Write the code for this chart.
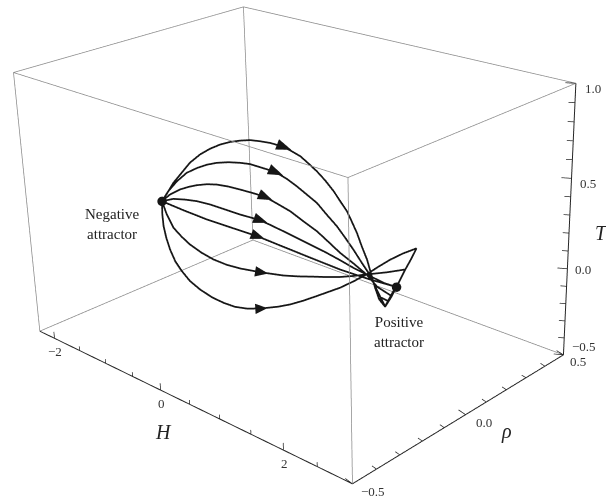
import numpy as np, plotly.graph_objects as go

# ---- data ----
H_BOX = [-2.3, 3.0]
RHO_BOX = [-0.5, 0.5]
T_BOX = [-0.5, 1.0]
PAD = 0.01   # axis ranges are opened by this fraction so box edges are not clipped
RHO_PLANE = 0.0

H1 = [-2.00,-1.89,-1.75,-1.57,-1.41,-1.21,-1.02,-0.83,-0.65,-0.47,-0.30,-0.13,0.04,0.26,0.39,0.53,0.66,0.79,0.92,1.05,1.15,1.25,1.32,1.40,1.47,1.55,1.62,1.67,1.73,1.82,1.89,1.98]
T1 = [0.056,0.116,0.197,0.280,0.354,0.424,0.477,0.521,0.554,0.580,0.600,0.611,0.619,0.620,0.610,0.597,0.571,0.543,0.507,0.463,0.420,0.378,0.332,0.277,0.214,0.150,0.067,0.009,-0.047,-0.076,-0.016,0.057]
H2 = [-2.00,-1.86,-1.68,-1.48,-1.28,-1.09,-0.91,-0.70,-0.49,-0.32,-0.15,0.11,0.30,0.46,0.62,0.78,0.93,1.09,1.22,1.34,1.47,1.57,1.67,1.74,1.82,1.89,1.98]
T2 = [0.056,0.134,0.214,0.287,0.337,0.377,0.407,0.433,0.452,0.463,0.464,0.465,0.447,0.424,0.396,0.368,0.322,0.276,0.227,0.179,0.121,0.079,0.018,-0.027,-0.073,-0.016,0.057]
H3 = [-2.00,-1.83,-1.63,-1.46,-1.30,-1.11,-0.93,-0.72,-0.51,-0.28,-0.08,0.12,0.34,0.55,0.77,0.95,1.13,1.34,1.54,1.64,1.70,1.92,1.98]
T3 = [0.056,0.117,0.170,0.205,0.233,0.260,0.278,0.290,0.296,0.301,0.303,0.288,0.270,0.239,0.209,0.172,0.134,0.101,0.066,0.037,0.019,-0.003,0.057]
H4 = [-2.00,-1.77,-1.54,-1.32,-1.07,-0.83,-0.53,-0.18,0.07,0.32,0.60,0.87,1.13,1.34,1.59,1.80,1.99]
T4 = [0.056,0.097,0.119,0.135,0.144,0.146,0.148,0.157,0.147,0.136,0.122,0.109,0.092,0.076,0.064,0.054,0.057]
H5 = [-2.00,-1.59,-1.15,-0.69,-0.24,0.18,0.59,1.13,1.59,1.99]
T5 = [0.056,0.049,0.045,0.050,0.056,0.050,0.045,0.039,0.045,0.057]
H6 = [-2.00,-1.92,-1.80,-1.65,-1.50,-1.28,-1.06,-0.82,-0.57,-0.20,0.19,0.44,0.69,0.91,1.13,1.34,1.54,1.85,2.12,1.99]
T6 = [0.056,-0.017,-0.086,-0.123,-0.151,-0.175,-0.188,-0.189,-0.179,-0.153,-0.120,-0.092,-0.060,-0.033,-0.003,0.031,0.066,0.119,0.170,0.057]
H7 = [-2.00,-2.01,-2.00,-1.96,-1.90,-1.81,-1.69,-1.54,-1.35,-1.13,-0.91,-0.70,-0.48,-0.23,0.08,0.29,0.52,0.74,0.93,1.12,1.34,1.54,1.72,1.90,2.09,2.28,2.20,2.12,2.02,1.92,1.82,1.73,1.77,1.87,1.99]
T7 = [0.056,-0.027,-0.099,-0.168,-0.233,-0.296,-0.343,-0.386,-0.414,-0.432,-0.437,-0.432,-0.412,-0.376,-0.321,-0.278,-0.223,-0.166,-0.116,-0.066,0.001,0.066,0.132,0.195,0.253,0.304,0.234,0.170,0.084,-0.003,-0.076,-0.044,-0.033,-0.038,0.057]
ARROW_AT = [13, 11, 10, 7, 4, 9, 13]

NEG_ATTRACTOR = (-2.00, 0.0, 0.056)
POS_ATTRACTOR = (1.99, 0.0, 0.057)

H_MAJOR = [-2, 0, 2]
H_MINOR = [-1.5, -1, -0.5, 0.5, 1, 1.5, 2.5]
RHO_MAJOR = [-0.5, 0.0, 0.5]
RHO_MINOR = [-0.4, -0.3, -0.2, -0.1, 0.1, 0.2, 0.3, 0.4]
T_MAJOR = [-0.5, 0.0, 0.5, 1.0]
T_MINOR = [-0.4, -0.3, -0.2, -0.1, 0.1, 0.2, 0.3, 0.4, 0.6, 0.7, 0.8, 0.9]
H_LABELS = ["\u22122", "0", "2"]
RHO_LABELS = ["\u22120.5", "0.0", "0.5"]
T_LABELS = ["\u22120.5", "0.0", "0.5", "1.0"]

# ---- view ----
EYE = (3.1236, -3.1487, 1.8448)
UP = (0.0197, 0.0197, 1.0)
ASPECT = (1.4039, 1.0, 0.9013)
CW, CH, OX, OY = 634, 1266, 26, 418   # canvas with the lens of the original, slid so the picture shows
GREY = "#8a8a8a"; DARK = "#262626"; INK = "#161616"; SERIF = "Liberation Serif"

H0, H9 = H_BOX; R0, R9 = RHO_BOX; T0, T9 = T_BOX
def opened(b):
    m = (b[1]-b[0])*PAD
    return [b[0]-m, b[1]+m]
fig = go.Figure()
def seg(xs, ys, zs, color, width):
    fig.add_trace(go.Scatter3d(x=xs, y=ys, z=zs, mode="lines", line=dict(color=color, width=width), hoverinfo="skip"))

# back edges of the box, grey
for a, b in [((H0,R9,T0),(H0,R0,T0)),((H0,R9,T0),(H9,R9,T0)),((H0,R0,T0),(H0,R0,T9)),((H9,R0,T0),(H9,R0,T9)),
             ((H0,R9,T0),(H0,R9,T9)),((H0,R0,T9),(H9,R0,T9)),((H9,R0,T9),(H9,R9,T9)),
             ((H9,R9,T9),(H0,R9,T9)),((H0,R9,T9),(H0,R0,T9))]:
    seg([a[0],b[0]],[a[1],b[1]],[a[2],b[2]],GREY,1.5)
# axis lines, dark
seg([H0,H9],[R0,R0],[T0,T0],DARK,2)
seg([H9,H9],[R0,R9],[T0,T0],DARK,2)
seg([H9,H9],[R9,R9],[T0,T9],DARK,2)
# tick marks
for vals, k in ((H_MAJOR,1.0),(H_MINOR,0.62)):
    for v in vals: seg([v,v],[R0,R0],[T0,T0+0.04*k],DARK,1.5)
for vals, k in ((RHO_MAJOR,1.0),(RHO_MINOR,0.62)):
    for v in vals: seg([H9,H9-0.10*k],[v,v],[T0,T0+0.01*k],DARK,1.5)
for vals, k in ((T_MAJOR,1.0),(T_MINOR,0.62)):
    for v in vals: seg([H9,H9-0.10*k],[R9,R9-0.015*k],[v,v],DARK,1.5)

# trajectories
scale = np.array([ASPECT[0]/(H9-H0), ASPECT[1]/(R9-R0), ASPECT[2]/(T9-T0)])
eye = np.array(EYE)
mid = np.array([(H0+H9)/2,(R0+R9)/2,(T0+T9)/2])
for hs, ts, ai in zip([H1,H2,H3,H4,H5,H6,H7],[T1,T2,T3,T4,T5,T6,T7],ARROW_AT):
    rs = [RHO_PLANE]*len(hs)
    seg(hs, rs, ts, INK, 3.5)
    # flat arrowhead facing the viewer, along the local direction of the curve
    c = np.array([hs[ai], RHO_PLANE, ts[ai]])
    d = (np.array([hs[ai+1], RHO_PLANE, ts[ai+1]]) - np.array([hs[ai-1], RHO_PLANE, ts[ai-1]]))*scale
    d = d/np.linalg.norm(d)
    view = eye - (c-mid)*scale
    n = np.cross(d, view); n = n/np.linalg.norm(n)
    tip = c + d*0.034/scale
    b1 = c + (-d*0.028 + n*0.017)/scale
    b2 = c + (-d*0.028 - n*0.017)/scale
    fig.add_trace(go.Mesh3d(x=[tip[0],b1[0],b2[0]], y=[tip[1],b1[1],b2[1]], z=[tip[2],b1[2],b2[2]], i=[0], j=[1], k=[2],
        color=INK, flatshading=True, lighting=dict(ambient=1,diffuse=0,specular=0,fresnel=0), hoverinfo="skip", showscale=False))

# attractors
fig.add_trace(go.Scatter3d(x=[NEG_ATTRACTOR[0],POS_ATTRACTOR[0]], y=[NEG_ATTRACTOR[1],POS_ATTRACTOR[1]], z=[NEG_ATTRACTOR[2],POS_ATTRACTOR[2]],
    mode="markers", marker=dict(size=5.5, color=INK, line=dict(width=0)), hoverinfo="skip"))

def note(x,y,z,text,dx,dy,size=13,color="#333333",**kw):
    return dict(x=x,y=y,z=z,text=text,xshift=dx,yshift=dy,showarrow=False,xanchor="center",yanchor="middle",
                font=dict(family=SERIF,size=size,color=color),**kw)
notes=[]
for v,t in zip(H_MAJOR,H_LABELS): notes.append(note(v,R0,T0,t,1,-13))
for v,t,(dx,dy) in zip(RHO_MAJOR,RHO_LABELS,[(21,-8),(18,-8),(15,-7)]): notes.append(note(H9,v,T0,t,dx,dy))
for v,t,(dx,dy) in zip(T_MAJOR,T_LABELS,[(21,8),(16,-1),(16,-5),(17,-5)]): notes.append(note(H9,R9,v,t,dx,dy))
notes.append(note(0,R0,T0,"<i>H</i>",3,-42,size=20,color="#222222"))
notes.append(note(H9,0.0,T0,"<i>\u03c1</i>",41,-17,size=20,color="#222222"))
notes.append(note(H9,R9,0.25,"<i>T</i>",32,-9,size=20,color="#222222"))
notes.append(note(*NEG_ATTRACTOR,"Negative<br>attractor",-50,-23,size=15,color="#222222"))
notes.append(note(*POS_ATTRACTOR,"Positive<br>attractor",3,-45,size=15,color="#222222"))

def axis(b,title):
    return dict(range=opened(b),title=title,visible=False)
op=1+2*PAD
fig.update_layout(width=CW,height=CH,margin=dict(l=0,r=0,t=0,b=0),showlegend=False,paper_bgcolor="white",
 scene=dict(domain=dict(x=[0,1],y=[0,1]),aspectmode="manual",aspectratio=dict(x=ASPECT[0]*op,y=ASPECT[1]*op,z=ASPECT[2]*op),dragmode="orbit",
  camera=dict(eye=dict(x=EYE[0],y=EYE[1],z=EYE[2]),center=dict(x=0,y=0,z=0),up=dict(x=UP[0],y=UP[1],z=UP[2])),
  xaxis=axis(H_BOX,"H"),yaxis=axis(RHO_BOX,"\u03c1"),zaxis=axis(T_BOX,"T"),
  annotations=notes))
fig.write_html("out.html",post_script="var g=document.getElementById('{plot_id}');g.style.position='absolute';g.style.left='-%dpx';g.style.top='-%dpx';document.body.style.overflow='hidden';document.documentElement.style.overflow='hidden';"%(OX,OY))
